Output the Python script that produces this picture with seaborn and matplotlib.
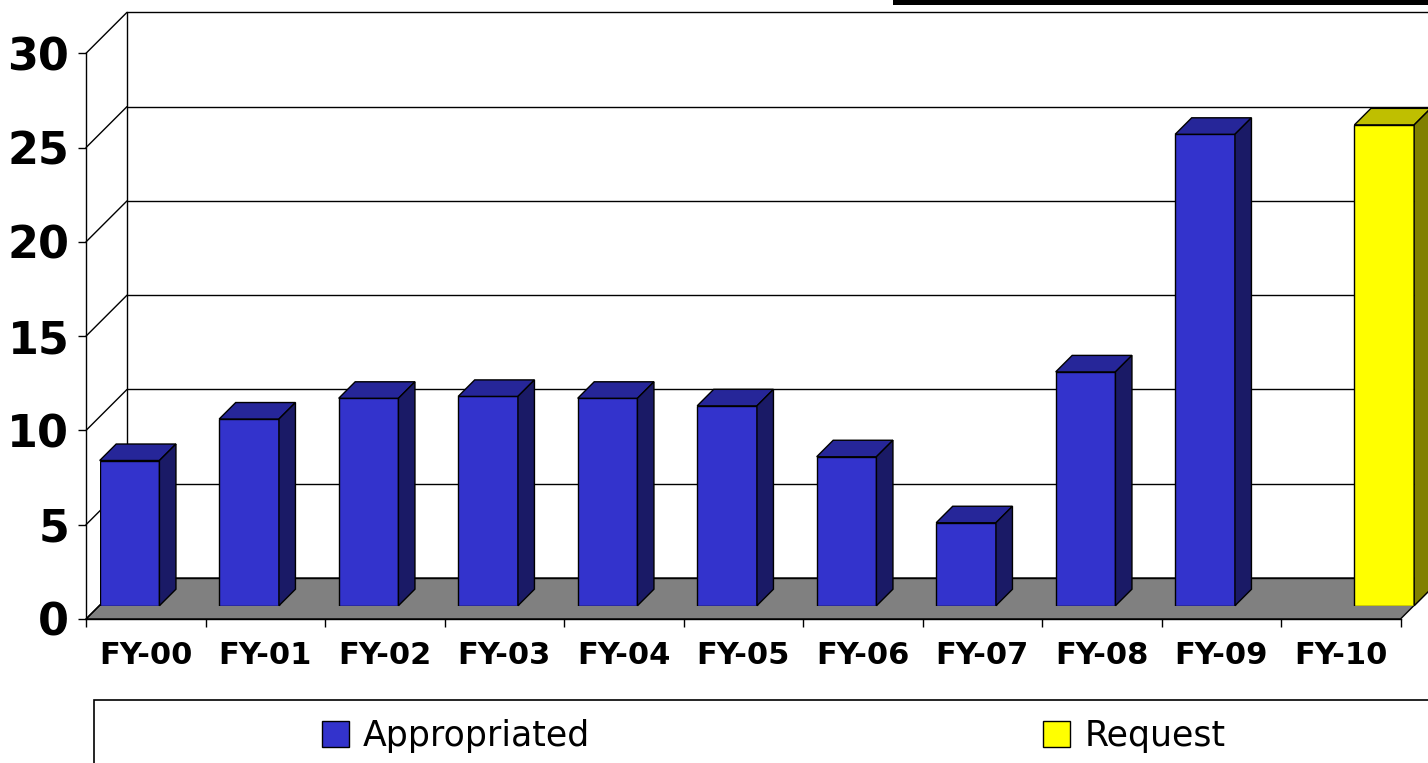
import numpy as np
import pandas as pd
import matplotlib.pyplot as plt
import seaborn as sns
from matplotlib.patches import Polygon, Rectangle, Patch

years = ["FY-00", "FY-01", "FY-02", "FY-03", "FY-04", "FY-05",
         "FY-06", "FY-07", "FY-08", "FY-09", "FY-10"]
appropriated = [7.7, 9.9, 11.0, 11.1, 11.0, 10.6, 7.9, 4.4, 12.4, 25.0, None]
request = [None] * 10 + [25.5]
series = ["Appropriated", "Request"]
colors = {"Appropriated": "#3333CC", "Request": "#FFFF00"}
y_ticks = [0, 5, 10, 15, 20, 25, 30]

df = pd.DataFrame({
    "year": years * 2,
    "series": [series[0]] * len(years) + [series[1]] * len(years),
    "value": appropriated + request,
}).dropna()

sns.set_style("white")
plt.rcParams["font.family"] = ["DejaVu Sans"]
plt.rcParams["text.color"] = "black"
plt.rcParams["xtick.color"] = "black"
plt.rcParams["ytick.color"] = "black"

W, H = 1428, 763
fig = plt.figure(figsize=(W / 100, H / 100), dpi=100)


def px_box(left, top, right, bottom):
    # pixel box (origin top-left) -> figure fraction rect
    return [left / W, 1 - bottom / H, (right - left) / W, (bottom - top) / H]


# front frame of the 3d box
ax = fig.add_axes(px_box(86, 53.3, 1400.5, 619))
ax.set_xlim(-0.5, 10.5)
ax.set_ylim(0, 30)
ax.patch.set_alpha(0)

# wall depth in data units
DX = 41 / 119.5
DY = 41 / 18.87

floor = Polygon([(-0.5, 0), (10.5, 0), (10.5 + DX, DY), (-0.5 + DX, DY)],
                closed=True, fc="#808080", ec="black", lw=1, clip_on=False, zorder=1)
ax.add_patch(floor)
for t in y_ticks:
    ax.plot([-0.5 + DX, 10.5 + DX], [t + DY, t + DY], color="black", lw=1, clip_on=False, zorder=2)
    ax.plot([-0.5, -0.5 + DX], [t, t + DY], color="black", lw=1, clip_on=False, zorder=2)
ax.plot([-0.5 + DX, -0.5 + DX], [DY, 30 + DY], color="black", lw=1, clip_on=False, zorder=2)

ax.set_yticks(y_ticks)
ax.set_yticklabels([str(t) for t in y_ticks], fontsize=32, fontweight="bold", color="black")
ax.tick_params(axis="y", length=6, width=1, pad=6, color="black", left=True)
ax.set_xticks(range(len(years)))
ax.set_xticklabels(years, fontsize=22, fontweight="bold", color="black")
ax.set_xticks(np.arange(-0.5, len(years), 1), minor=True)
ax.tick_params(axis="x", which="major", length=0, pad=16)
ax.tick_params(axis="x", which="minor", length=6, width=1, color="black", bottom=True)
for s in ["top", "right"]:
    ax.spines[s].set_visible(False)
for s in ["left", "bottom"]:
    ax.spines[s].set_color("black")
    ax.spines[s].set_linewidth(1)

# bars sit a little deeper inside the box
ax_b = fig.add_axes(px_box(86 + 13.7, 53.3 - 13.3, 1400.5 + 13.7, 619 - 13.3))
sns.barplot(data=df, x="year", y="value", hue="series", hue_order=series, order=years,
            palette=colors, width=1.0, dodge=True, saturation=1, edgecolor="black",
            linewidth=1, legend=False, ax=ax_b)
ax_b.set_xlim(-0.5, 10.5)
ax_b.set_ylim(0, 30)
ax_b.axis("off")
ax_b.patch.set_alpha(0)

BDX = 16.5 / 119.5
BDY = 16.5 / 18.87
for p in list(ax_b.patches):
    h = p.get_height()
    if not np.isfinite(h) or h <= 0:
        continue
    x0, w = p.get_x(), p.get_width()
    fc = np.array(p.get_facecolor()[:3])
    top = [(x0, h), (x0 + w, h), (x0 + w + BDX, h + BDY), (x0 + BDX, h + BDY)]
    side = [(x0 + w, 0), (x0 + w + BDX, BDY), (x0 + w + BDX, h + BDY), (x0 + w, h)]
    ax_b.add_patch(Polygon(top, closed=True, fc=fc * 0.75, ec="black", lw=1, clip_on=False))
    ax_b.add_patch(Polygon(side, closed=True, fc=fc * 0.5, ec="black", lw=1, clip_on=False))

# legend box running off the bottom/right edge
fig.add_artist(Rectangle((94 / W, -0.05), 1.0, (1 - 700 / H) + 0.05, transform=fig.transFigure,
                         fill=False, ec="black", lw=1.2))
for name, cx in zip(series, [456, 1134]):
    fig.legend(handles=[Patch(fc=colors[name], ec="black", lw=1)], labels=[name],
               loc="center", bbox_to_anchor=(cx / W, 1 - 736 / H), frameon=False,
               fontsize=25, handlelength=0.8, handleheight=0.8, handletextpad=0.4,
               labelcolor="black")

# dark strip at the top right (slide title rule)
fig.add_artist(Rectangle((893 / W, 1 - 5 / H), 1.0, 5 / H, transform=fig.transFigure,
                         fc="black", ec="none"))

fig.savefig("out.png", dpi=100)
